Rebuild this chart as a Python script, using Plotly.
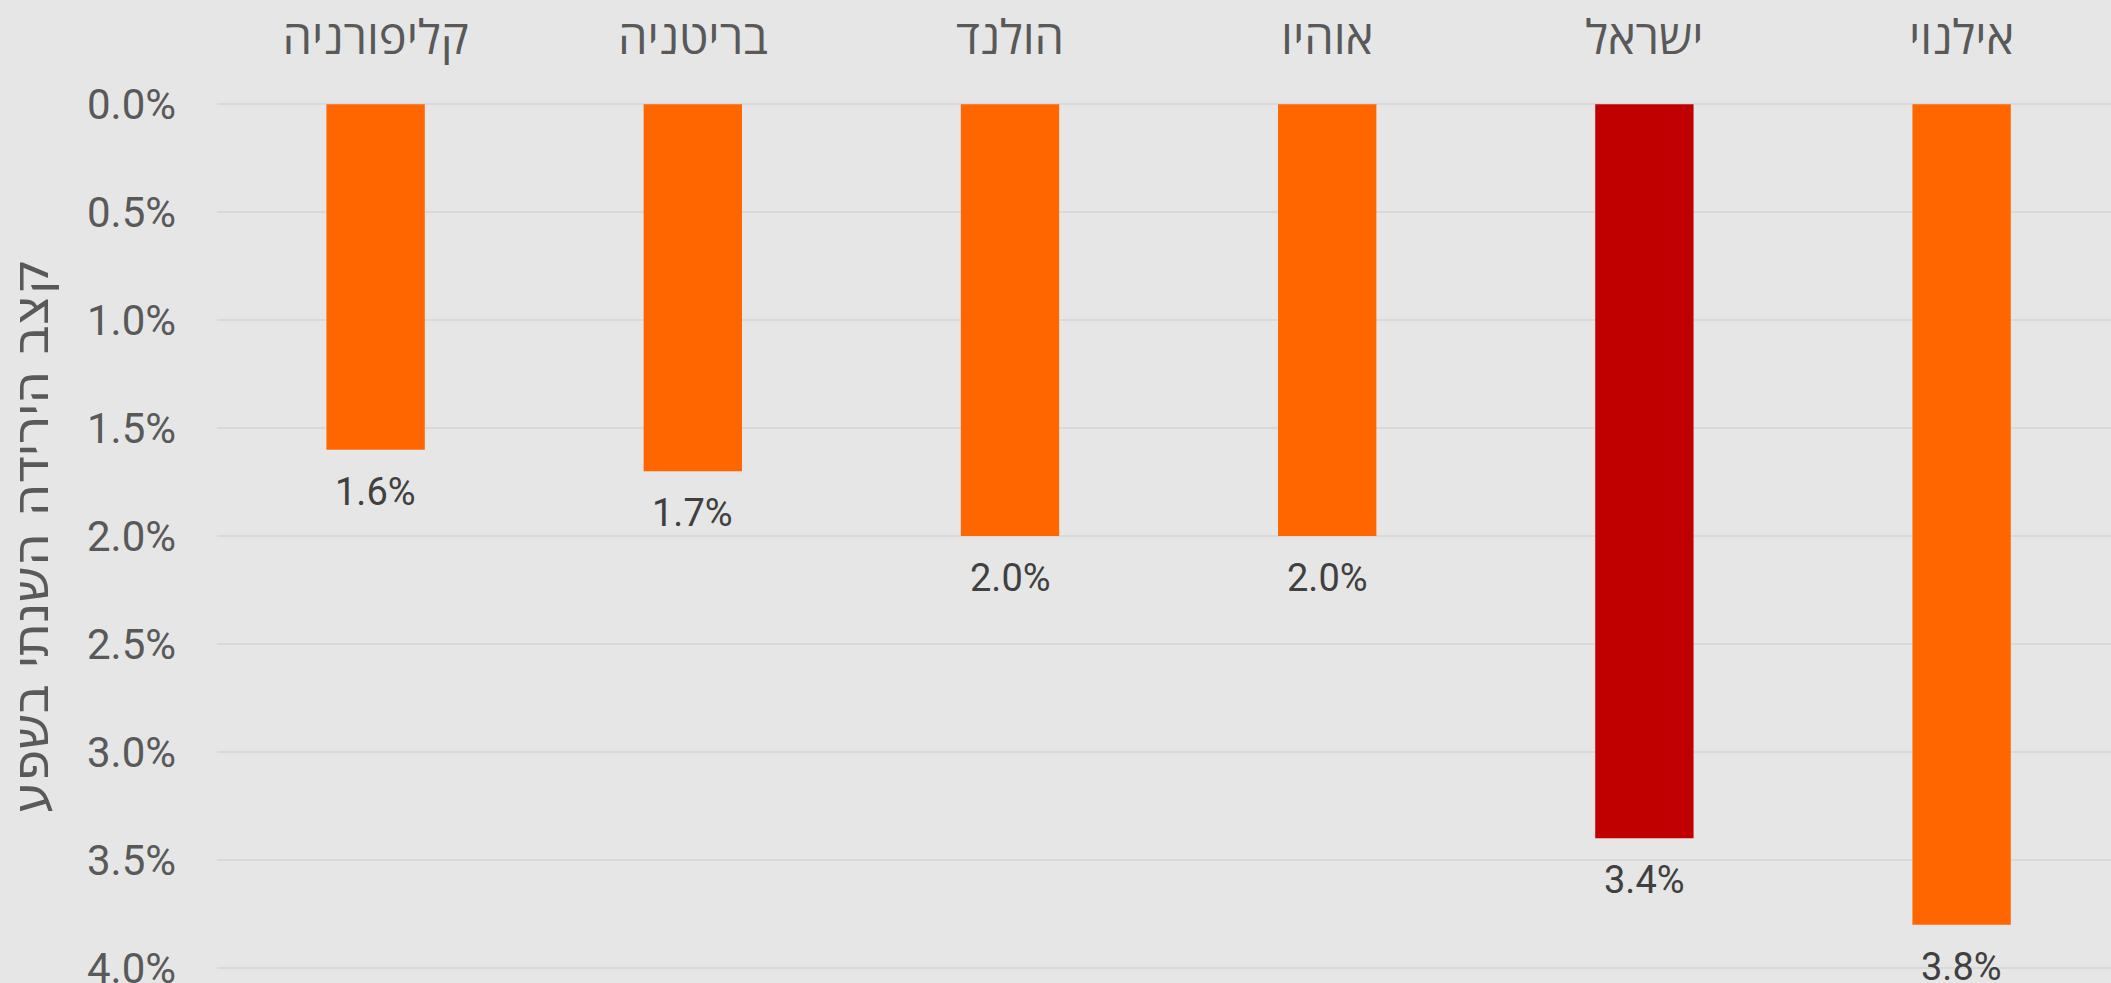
import plotly.graph_objects as go

categories = ["קליפורניה", "בריטניה", "הולנד", "אוהיו", "ישראל", "אילנוי"]
values = [1.6, 1.7, 2.0, 2.0, 3.4, 3.8]
colors = ["#FF6600", "#FF6600", "#FF6600", "#FF6600", "#C00000", "#FF6600"]
y_ticks = [0, 0.5, 1.0, 1.5, 2.0, 2.5, 3.0, 3.5, 4.0]
y_title = "קצב הירידה השנתי בשפע"

FONT = "Roboto, 'Open Sans', sans-serif"
HEB_FONT = "'Open Sans', sans-serif"

fig = go.Figure()
fig.add_trace(go.Bar(
    x=list(range(len(categories))),
    y=values,
    marker=dict(color=colors, line=dict(width=0)),
    width=0.31,
    hoverinfo="skip",
))

for i, v in enumerate(values):
    fig.add_annotation(
        x=i, y=v, text=f"{v:.1f}%", showarrow=False,
        yanchor="top", yshift=-18,
        font=dict(family=FONT, size=38, color="#404040"),
    )

fig.update_layout(
    width=2111, height=983,
    margin=dict(l=217, r=0, t=102, b=13),
    paper_bgcolor="#E6E6E6",
    plot_bgcolor="#E6E6E6",
    showlegend=False,
    font=dict(family=FONT, color="#595959"),
)
fig.update_xaxes(
    side="top",
    range=[-0.5, 5.471],
    tickmode="array",
    tickvals=list(range(len(categories))),
    ticktext=categories,
    tickfont=dict(family=HEB_FONT, size=47, color="#595959"),
    showgrid=False, zeroline=False, showline=False,
    ticks="",
    ticklabelstandoff=38,
    automargin=False,
)
fig.update_yaxes(
    range=[4.01, -0.01],
    tickmode="array",
    tickvals=y_ticks,
    ticktext=[f"{t:.1f}%" for t in y_ticks],
    tickfont=dict(family=FONT, size=42, color="#595959"),
    ticklabeloverflow="allow",
    showgrid=True, gridcolor="#D9D9D9", gridwidth=2,
    zeroline=False, showline=False, ticks="",
    ticklabelstandoff=40,
    automargin=False,
    title=dict(text=y_title, font=dict(family="'DejaVu Sans', sans-serif", size=51, color="#595959"), standoff=22),
)

fig.write_html(
    "out.html",
    config={"displayModeBar": False},
    post_script="document.body.style.margin='0';document.body.style.overflow='hidden';",
)
